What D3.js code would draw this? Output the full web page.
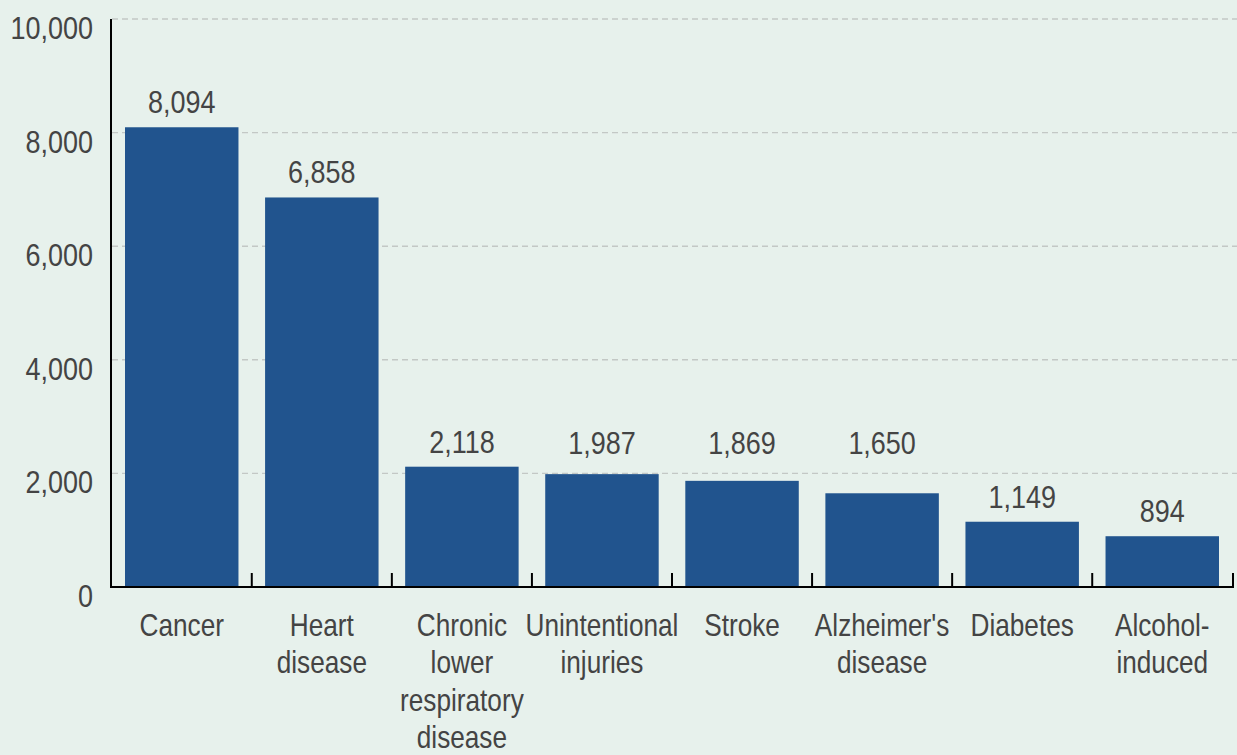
<!DOCTYPE html>
<html>
<head>
<meta charset="utf-8">
<script src="https://cdn.jsdelivr.net/npm/d3@7"></script>
<style>
  html, body { margin: 0; padding: 0; background: #e7f1ec; }
  svg { display: block; }
  text { font-family: "Liberation Sans", Arial, sans-serif; fill: #444; }
</style>
</head>
<body>
<svg id="chart" width="1237" height="755"></svg>
<script>
// Leading causes of death — counts per cause
const categories = [
  ["Cancer"],
  ["Heart", "disease"],
  ["Chronic", "lower", "respiratory", "disease"],
  ["Unintentional", "injuries"],
  ["Stroke"],
  ["Alzheimer's", "disease"],
  ["Diabetes"],
  ["Alcohol-", "induced"]
];
const deaths = [8094, 6858, 2118, 1987, 1869, 1650, 1149, 894];
const yTicks = [0, 2000, 4000, 6000, 8000, 10000];

const W = 1237, H = 755;
const plotLeft = 111, plotRight = 1233, plotTop = 19, plotBottom = 587;
const fontSize = 31;
// condensed look: squeeze glyphs horizontally
const numSqueeze = 0.87, catSqueeze = 0.845;

const svg = d3.select("#chart");
const fmt = d3.format(",");
const keys = categories.map(c => c.join(" "));

const x = d3.scaleBand()
  .domain(keys)
  .range([plotLeft, plotRight])
  .paddingInner(0.19)
  .paddingOuter(0.1);

const y = d3.scaleLinear()
  .domain([0, 10000])
  .range([plotBottom, plotTop]);

// dashed horizontal gridlines
svg.append("g")
  .selectAll("line")
  .data(yTicks.filter(t => t > 0))
  .join("line")
  .attr("x1", plotLeft + 1)
  .attr("x2", W)
  .attr("y1", d => y(d))
  .attr("y2", d => y(d))
  .attr("stroke", "#c3c8c5")
  .attr("stroke-width", 1.4)
  .attr("stroke-dasharray", "6,4");

// y tick labels
svg.append("g")
  .selectAll("text")
  .data(yTicks)
  .join("text")
  .attr("transform", d => `translate(93,${y(d) + 20}) scale(${numSqueeze},1)`)
  .attr("text-anchor", "end")
  .attr("font-size", fontSize)
  .text(d => fmt(d));

// bars
svg.append("g")
  .selectAll("rect")
  .data(deaths)
  .join("rect")
  .attr("x", (d, i) => x(keys[i]))
  .attr("y", d => y(d))
  .attr("width", x.bandwidth())
  .attr("height", d => y(0) - y(d))
  .attr("fill", "#21548e");

// value labels sit above bars, lifted clear of any gridline they would cross
function labelBaseline(v) {
  let b = y(v) - 14;
  yTicks.forEach(t => {
    const gy = y(t);
    if (t > 0 && gy > b - 24 && gy < b + 15) b = gy - 19;
  });
  return b;
}
svg.append("g")
  .selectAll("text")
  .data(deaths)
  .join("text")
  .attr("transform", (d, i) =>
    `translate(${x(keys[i]) + x.bandwidth() / 2},${labelBaseline(d)}) scale(${numSqueeze},1)`)
  .attr("text-anchor", "middle")
  .attr("font-size", fontSize)
  .text(d => fmt(d));

// axis lines
const axisG = svg.append("g").attr("stroke", "#000").attr("stroke-width", 2);
axisG.append("line")
  .attr("x1", plotLeft).attr("x2", plotLeft)
  .attr("y1", plotTop).attr("y2", plotBottom + 1);
axisG.append("line")
  .attr("x1", plotLeft).attr("x2", plotRight + 1)
  .attr("y1", plotBottom).attr("y2", plotBottom);

// category boundary ticks (pointing up from the baseline)
const step = x.step();
const boundaries = keys.map((k, i) => x(k) + x.bandwidth() + (step - x.bandwidth()) / 2);
boundaries[boundaries.length - 1] = plotRight;
axisG.selectAll("line.tick")
  .data(boundaries)
  .join("line")
  .attr("class", "tick")
  .attr("x1", d => d).attr("x2", d => d)
  .attr("y1", plotBottom).attr("y2", plotBottom - 14);

// category labels
const lineH = 37.5;
svg.append("g")
  .selectAll("text")
  .data(categories)
  .join("text")
  .attr("text-anchor", "middle")
  .attr("font-size", fontSize)
  .attr("transform", (d, i) =>
    `translate(${x(keys[i]) + x.bandwidth() / 2},636) scale(${catSqueeze},1)`)
  .selectAll("tspan")
  .data(d => d)
  .join("tspan")
  .attr("x", 0)
  .attr("y", (d, j) => j * lineH)
  .text(d => d);
</script>
</body>
</html>
